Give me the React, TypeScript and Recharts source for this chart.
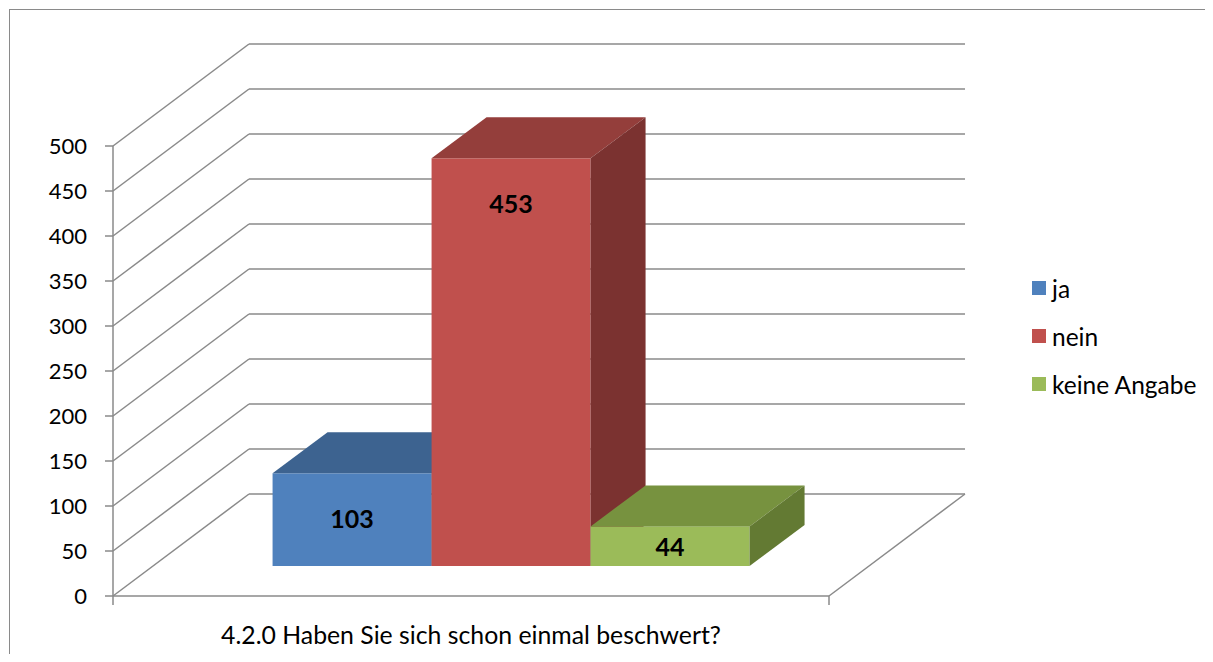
import { BarChart, Bar, XAxis, YAxis, CartesianGrid, Legend, LabelList } from "recharts";

const categories = ["4.2.0 Haben Sie sich schon einmal beschwert?"];
const seriesNames = ["ja", "nein", "keine Angabe"];
const seriesValues = [[103], [453], [44]];
const yTicks = [0, 50, 100, 150, 200, 250, 300, 350, 400, 450, 500];

const frontColors = ["#4F81BD", "#C0504D", "#9BBB59"];
const topColors = ["#3D6390", "#943E3B", "#77923F"];
const sideColors = ["#345580", "#7B3230", "#637A33"];

const GRID = "#8A8A8A";
const FONT = "Lato, 'Open Sans', sans-serif";

// fake 3d: back wall offset, bar front offset, bar depth
const WALL_DX = 136;
const WALL_DY = -102;
const BAR_DX = 40;
const BAR_DY = -30;
const DEPTH_DX = 55;
const DEPTH_DY = -41;

const data = categories.map((name, i) => {
  const row: Record<string, string | number> = { name };
  seriesNames.forEach((_, j) => {
    row[`s${j}`] = seriesValues[j][i];
  });
  return row;
});

const makeBox = (j: number) => (props: any) => {
  const { x, y, width: w, height: h } = props;
  const fx = x + BAR_DX;
  const fy = y + BAR_DY;
  return (
    <g>
      <rect x={fx} y={fy} width={w} height={h} fill={frontColors[j]} />
      <polygon
        points={`${fx},${fy} ${fx + DEPTH_DX},${fy + DEPTH_DY} ${fx + w + DEPTH_DX},${fy + DEPTH_DY} ${fx + w},${fy}`}
        fill={topColors[j]}
      />
      <polygon
        points={`${fx + w},${fy} ${fx + w + DEPTH_DX},${fy + DEPTH_DY} ${fx + w + DEPTH_DX},${fy + h + DEPTH_DY} ${fx + w},${fy + h}`}
        fill={sideColors[j]}
      />
    </g>
  );
};

const boxLabel = (props: any) => {
  const vb = props.viewBox ?? props;
  const { x, y, width, height } = vb;
  const cx = x + width / 2 + BAR_DX;
  const cy = Math.min(y + BAR_DY + 45, y + BAR_DY + height / 2);
  return (
    <text x={cx} y={cy} textAnchor="middle" dominantBaseline="central" fontFamily={FONT} fontWeight="bold" fontSize={25} fill="#000">
      {props.value}
    </text>
  );
};

const wallLine = (props: any) => {
  const { x1, y1, x2, index } = props;
  const isFloor = props.y != null && props.height != null && Math.abs(y1 - (props.y + props.height)) < 0.5;
  const st = { stroke: GRID, strokeWidth: 1.5 };
  return (
    <g key={`wall-${index}`}>
      <line x1={x1} y1={y1} x2={x1 + WALL_DX} y2={y1 + WALL_DY} {...st} />
      <line x1={x1 + WALL_DX} y1={y1 + WALL_DY} x2={x2 + WALL_DX} y2={y1 + WALL_DY} {...st} />
      {isFloor && (
        <>
          <line x1={x2} y1={y1} x2={x2 + WALL_DX} y2={y1 + WALL_DY} {...st} />
          <line x1={x1} y1={y1} x2={x1} y2={y1 + 9} {...st} />
          <line x1={x2} y1={y1} x2={x2} y2={y1 + 9} {...st} />
        </>
      )}
    </g>
  );
};

const CategoryTick = (props: any) => {
  const { x, y, payload } = props;
  return (
    <text x={x} y={y + 38} textAnchor="middle" dominantBaseline="central" fontFamily={FONT} fontSize={24.8} fill="#000">
      {payload.value}
    </text>
  );
};

const LegendBox = (props: any) => {
  const items = [...(props.payload ?? [])].sort(
    (a: any, b: any) => seriesNames.indexOf(a.value) - seriesNames.indexOf(b.value)
  );
  return (
    <div style={{ fontFamily: FONT, fontSize: 24.5, color: "#000" }}>
      {items.map((e: any) => (
        <div key={e.value} style={{ display: "flex", alignItems: "center", height: 48 }}>
          <span style={{ width: 14, height: 14, background: e.color, marginRight: 6, display: "inline-block" }} />
          <span>{e.value}</span>
        </div>
      ))}
    </div>
  );
};

export default function App() {
  return (
    <div style={{ width: 1205, height: 654, marginBottom: -8, position: "relative", overflow: "hidden" }}>
      <div
        style={{
          position: "absolute",
          left: 1,
          top: 1,
          right: 0,
          bottom: 0,
          borderTop: `1px solid ${GRID}`,
          borderLeft: `1px solid ${GRID}`,
        }}
      />
      <div style={{ position: "absolute", left: 2, top: 2 }}>
        <BarChart
          width={1200}
          height={650}
          data={data}
          margin={{ top: 136, right: 381, bottom: 14, left: 43 }}
          barCategoryGap="16.7%"
          barGap={0}
        >
          <CartesianGrid horizontal={wallLine} vertical={false} />
          <XAxis
            dataKey="name"
            tickLine={false}
            tickSize={0}
            tickMargin={0}
            height={50}
            axisLine={{ stroke: GRID, strokeWidth: 1.5 }}
            tick={<CategoryTick />}
          />
          <YAxis
            domain={[0, 500]}
            ticks={yTicks}
            width={60}
            tickSize={8}
            tickMargin={18}
            axisLine={{ stroke: GRID, strokeWidth: 1.5 }}
            tickLine={{ stroke: GRID, strokeWidth: 1.5 }}
            tick={{ fontFamily: FONT, fontSize: 22, fill: "#000" }}
          />
          <Legend
            layout="vertical"
            align="center"
            verticalAlign="middle"
            wrapperStyle={{ left: 1022, top: 254, width: 190 }}
            content={<LegendBox />}
          />
          {seriesNames.map((s, j) => (
            <Bar key={s} dataKey={`s${j}`} name={s} fill={frontColors[j]} shape={makeBox(j)} isAnimationActive={false}>
              <LabelList dataKey={`s${j}`} content={boxLabel} />
            </Bar>
          ))}
        </BarChart>
      </div>
    </div>
  );
}
